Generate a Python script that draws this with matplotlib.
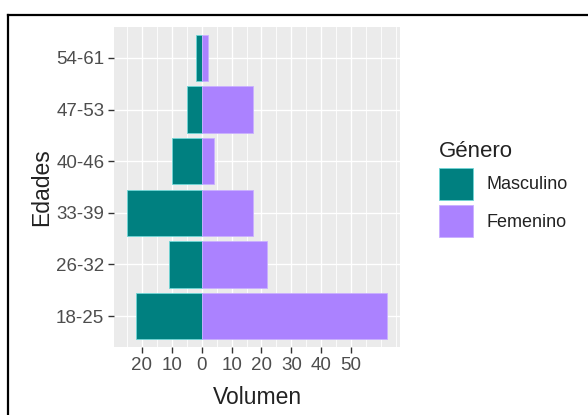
import matplotlib.pyplot as plt
from matplotlib.lines import Line2D
from matplotlib.patches import Patch
import numpy as np

# age groups, bottom to top
edades = ["18-25", "26-32", "33-39", "40-46", "47-53", "54-61"]
masculino = [22, 11, 25, 10, 5, 2]
femenino = [62, 22, 17, 4, 17, 2]

x_breaks = [-20, -10, 0, 10, 20, 30, 40, 50]

TEAL = "#008080"
PURPLE = "#AB82FF"
W, H = 588, 415


def main():
    plt.rcParams['font.family'] = ['Liberation Sans', 'DejaVu Sans']
    fig = plt.figure(figsize=(W / 100, H / 100), dpi=100)
    ax = fig.add_axes([114 / W, 1 - 347 / H, 286 / W, 320 / H])
    ax.set_facecolor("#EBEBEB")

    y = np.arange(len(edades))
    ax.barh(y, [-v for v in masculino], height=0.9, color=TEAL,
            edgecolor="#6FD6D6", linewidth=0.6, zorder=3)
    ax.barh(y, femenino, height=0.9, color=PURPLE,
            edgecolor="#C9B0FF", linewidth=0.6, zorder=3)

    lo = -max(masculino)
    hi = max(femenino)
    pad = (hi - lo) * 0.05
    ax.set_xlim(lo - pad, hi + pad)
    ax.set_ylim(-0.6, len(edades) - 0.4)

    ax.set_xticks(x_breaks)
    ax.set_xticklabels([str(abs(b)) for b in x_breaks])
    minor = [m for m in range(-25, 70, 5) if m not in x_breaks]
    ax.set_xticks(minor, minor=True)
    ax.set_yticks(y)
    ax.set_yticklabels(edades)

    ax.grid(which="major", color="white", linewidth=1.0, zorder=0)
    ax.grid(which="minor", axis="x", color="white", linewidth=0.6, zorder=0)
    ax.set_axisbelow(True)
    for s in ax.spines.values():
        s.set_visible(False)
    ax.tick_params(which="major", length=4, width=1.0, color="#333333",
                   labelsize=13.5, labelcolor="#4D4D4D", pad=3)
    ax.tick_params(which="minor", length=0)

    ax.set_xlabel("Volumen", fontsize=16.5, color="#222222", labelpad=9)
    ax.set_ylabel("Edades", fontsize=16.5, color="#222222", labelpad=2)

    handles = [Patch(facecolor=TEAL, edgecolor="#6FD6D6", linewidth=0.6),
               Patch(facecolor=PURPLE, edgecolor="#C9B0FF", linewidth=0.6)]
    leg = fig.legend(handles, ["Masculino", "Femenino"], title="Género",
                     loc="upper left", bbox_to_anchor=(432 / W, 1 - 134 / H),
                     frameon=False, fontsize=13, title_fontsize=16,
                     handlelength=1.85, handleheight=2.35,
                     labelspacing=0.3, handletextpad=0.75, borderaxespad=0)
    leg._legend_box.align = "left"
    for t in leg.get_texts():
        t.set_color("#222222")
    leg.get_title().set_color("#222222")

    # outer frame, top and left only
    fig.add_artist(Line2D([8 / W, 1], [1 - 15 / H, 1 - 15 / H],
                          transform=fig.transFigure, color="black", linewidth=1.6))
    fig.add_artist(Line2D([8 / W, 8 / W], [0, 1 - 15 / H],
                          transform=fig.transFigure, color="black", linewidth=1.6))

    fig.savefig("out.png", dpi=100)


if __name__ == "__main__":
    main()
